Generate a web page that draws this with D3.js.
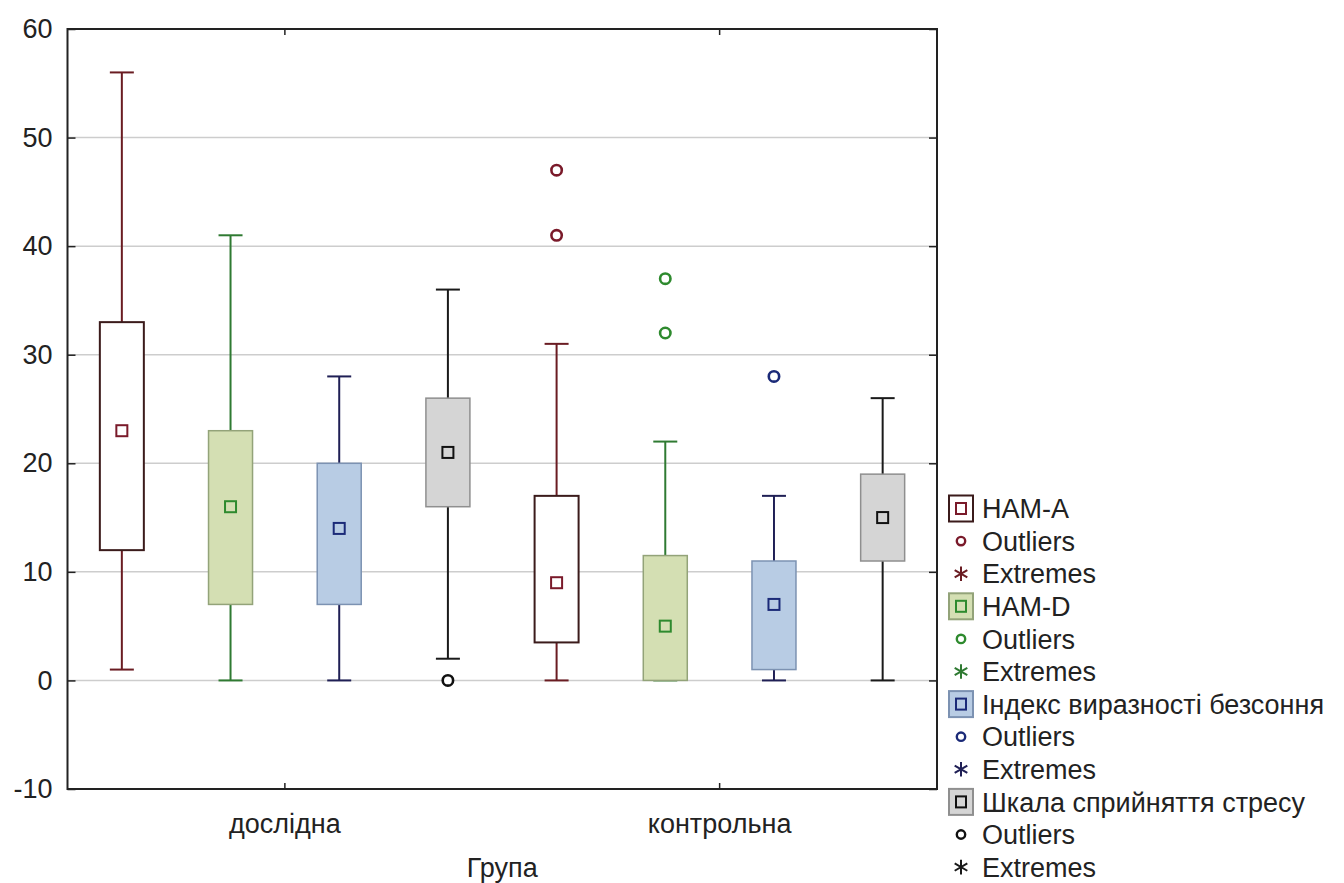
<!DOCTYPE html>
<html>
<head>
<meta charset="utf-8">
<script src="https://cdn.jsdelivr.net/npm/d3@7"></script>
<style>
  body { margin: 0; background: #fff; }
  text { font-family: "Liberation Sans", Arial, sans-serif; fill: #222; }
</style>
</head>
<body>
<svg id="chart"></svg>
<script>
// data, indexed [group][series]
const groups = ['дослідна', 'контрольна']
const seriesNames = ['HAM-A', 'HAM-D', 'Індекс виразності безсоння', 'Шкала сприйняття стресу']
const medians = [[23, 16, 14, 21], [9, 5, 7, 15]]
const q1s = [[12, 7, 7, 16], [3.5, 0, 1, 11]]
const q3s = [[33, 23, 20, 26], [17, 11.5, 11, 19]]
const whiskerLow = [[1, 0, 0, 2], [0, 0, 0, 0]]
const whiskerHigh = [[56, 41, 28, 36], [31, 22, 17, 26]]
const outliers = [[[], [], [], [0]], [[47, 41], [37, 32], [28], []]]
const yTicks = [-10, 0, 10, 20, 30, 40, 50, 60]

// styling per series
const boxFill = ['#ffffff', '#d4dfb3', '#b8cce4', '#d5d5d5']
const boxStroke = ['#3b1b1b', '#93a379', '#7c92b2', '#8f8f8f']
const whiskerColor = ['#6a1c22', '#2f7a32', '#1f1f55', '#1a1a1a']
const markColor = ['#7a1a2a', '#2e8a2e', '#1b2a78', '#111111']

const width = 1344
const height = 883
const plot = { left: 67.5, right: 937, top: 29, bottom: 789 }
const boxW = 44
const capW = 24

const svg = d3.select('#chart').attr('width', width).attr('height', height)

const x = d3.scaleBand().domain(groups).range([plot.left, plot.right])
const xs = d3.scaleBand().domain(d3.range(seriesNames.length)).range([0, x.bandwidth()])
const y = d3.scaleLinear().domain([-10, 60]).range([plot.bottom, plot.top])

// gridlines
svg.append('g')
  .selectAll('line')
  .data(yTicks.filter(t => t > -10 && t < 60))
  .join('line')
  .attr('x1', plot.left).attr('x2', plot.right)
  .attr('y1', d => y(d)).attr('y2', d => y(d))
  .attr('stroke', '#cdcdcd')
  .attr('stroke-width', 1.5)

// flatten into one row per box
const boxes = []
groups.forEach((g, gi) => {
  seriesNames.forEach((s, si) => {
    boxes.push({
      g, si,
      cx: x(g) + xs(si) + xs.bandwidth() / 2,
      med: medians[gi][si], q1: q1s[gi][si], q3: q3s[gi][si],
      lo: whiskerLow[gi][si], hi: whiskerHigh[gi][si],
      out: outliers[gi][si]
    })
  })
})

const bx = svg.append('g').selectAll('g').data(boxes).join('g')

// whisker stems
bx.append('line')
  .attr('x1', d => d.cx).attr('x2', d => d.cx)
  .attr('y1', d => y(d.hi)).attr('y2', d => y(d.lo))
  .attr('stroke', d => whiskerColor[d.si])
  .attr('stroke-width', 2)

// caps
bx.selectAll('.cap')
  .data(d => [d.lo, d.hi].map(v => ({ v, cx: d.cx, si: d.si })))
  .join('line')
  .attr('class', 'cap')
  .attr('x1', d => d.cx - capW / 2).attr('x2', d => d.cx + capW / 2)
  .attr('y1', d => y(d.v)).attr('y2', d => y(d.v))
  .attr('stroke', d => whiskerColor[d.si])
  .attr('stroke-width', 2)

// boxes
bx.append('rect')
  .attr('x', d => d.cx - boxW / 2)
  .attr('y', d => y(d.q3))
  .attr('width', boxW)
  .attr('height', d => y(d.q1) - y(d.q3))
  .attr('fill', d => boxFill[d.si])
  .attr('stroke', d => boxStroke[d.si])
  .attr('stroke-width', d => d.si === 0 ? 2 : 1.5)

// median markers
bx.append('rect')
  .attr('x', d => d.cx - 5.5)
  .attr('y', d => y(d.med) - 5.5)
  .attr('width', 11).attr('height', 11)
  .attr('fill', d => boxFill[d.si])
  .attr('stroke', d => markColor[d.si])
  .attr('stroke-width', 2)

// outliers
bx.selectAll('circle')
  .data(d => d.out.map(v => ({ v, cx: d.cx, si: d.si })))
  .join('circle')
  .attr('cx', d => d.cx)
  .attr('cy', d => y(d.v))
  .attr('r', 5.2)
  .attr('fill', '#fff')
  .attr('stroke', d => markColor[d.si])
  .attr('stroke-width', 2.6)

// frame
svg.append('rect')
  .attr('x', plot.left).attr('y', plot.top)
  .attr('width', plot.right - plot.left)
  .attr('height', plot.bottom - plot.top)
  .attr('fill', 'none')
  .attr('stroke', '#222')
  .attr('stroke-width', 2)

// axes, ticks point inside
svg.append('g')
  .attr('transform', `translate(${plot.left},0)`)
  .call(d3.axisLeft(y).tickValues(yTicks).tickSize(-8).tickPadding(15).tickFormat(d => String(d)))
svg.append('g')
  .attr('transform', `translate(${plot.right},0)`)
  .call(d3.axisLeft(y).tickValues(yTicks).tickSize(8).tickFormat(''))
svg.append('g')
  .attr('transform', `translate(0,${plot.top})`)
  .call(d3.axisTop(x).tickSize(-6).tickFormat(''))
svg.append('g')
  .attr('transform', `translate(0,${plot.bottom})`)
  .call(d3.axisBottom(x).tickSize(-6).tickPadding(25))

svg.selectAll('.domain').remove()
svg.selectAll('.tick line').attr('stroke', '#222').attr('stroke-width', 1.5)
svg.selectAll('.tick text')
  .style('font-size', '27px')
  .style('font-family', '"Liberation Sans", Arial, sans-serif')
  .attr('fill', '#222')

svg.append('text')
  .attr('x', (plot.left + plot.right) / 2)
  .attr('y', 877)
  .attr('text-anchor', 'middle')
  .style('font-size', '27px')
  .text('Група')

// legend
const legendRows = []
seriesNames.forEach((s, si) => {
  legendRows.push({ type: 'box', label: s, si })
  legendRows.push({ type: 'out', label: 'Outliers', si })
  legendRows.push({ type: 'ext', label: 'Extremes', si })
})
const lg = svg.append('g')
  .selectAll('g')
  .data(legendRows)
  .join('g')
  .attr('transform', (d, i) => `translate(961,${508.5 + i * 32.6})`)

lg.filter(d => d.type === 'box').append('rect')
  .attr('x', -12).attr('y', -13).attr('width', 24).attr('height', 26)
  .attr('fill', d => boxFill[d.si])
  .attr('stroke', d => boxStroke[d.si])
  .attr('stroke-width', 2)
lg.filter(d => d.type === 'box').append('rect')
  .attr('x', -5).attr('y', -5.5).attr('width', 10).attr('height', 11)
  .attr('fill', d => boxFill[d.si])
  .attr('stroke', d => markColor[d.si])
  .attr('stroke-width', 2)
lg.filter(d => d.type === 'out').append('circle')
  .attr('r', 4.2)
  .attr('fill', '#fff')
  .attr('stroke', d => markColor[d.si])
  .attr('stroke-width', 2.4)
lg.filter(d => d.type === 'ext').append('path')
  .attr('d', d3.symbol(d3.symbolAsterisk, 150))
  .attr('fill', 'none')
  .attr('stroke', d => whiskerColor[d.si])
  .attr('stroke-width', 2)
lg.append('text')
  .attr('x', 21)
  .attr('dy', '0.36em')
  .style('font-size', '27px')
  .text(d => d.label)
</script>
</body>
</html>
